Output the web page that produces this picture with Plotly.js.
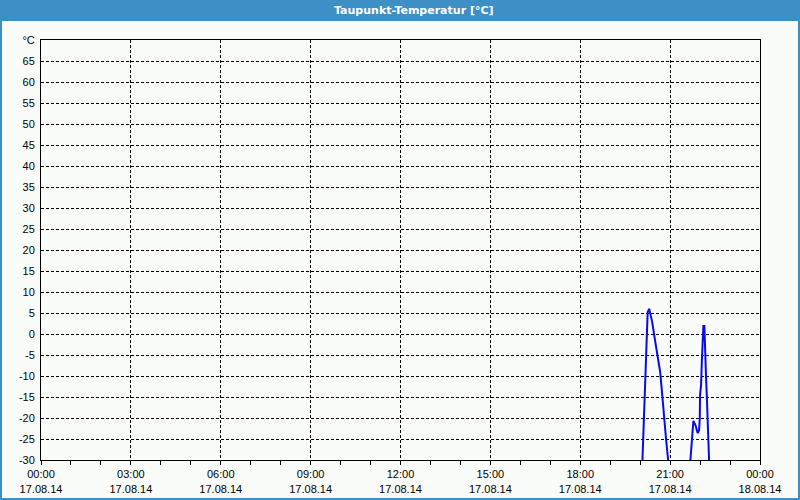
<!DOCTYPE html>
<html>
<head>
<meta charset="utf-8">
<script src="https://cdn.plot.ly/plotly-3.0.1.min.js"></script>
<style>html,body{margin:0;padding:0;background:#fafcfa;}#chart{width:800px;height:500px;}</style>
</head>
<body>
<div id="chart"></div>
<script>
var chartTitle = 'Taupunkt-Temperatur [°C]';
var times = [
  '2014-08-17 20:04:36','2014-08-17 20:06:00','2014-08-17 20:08:36','2014-08-17 20:12:00',
  '2014-08-17 20:15:00','2014-08-17 20:18:00','2014-08-17 20:20:00','2014-08-17 20:24:00',
  '2014-08-17 20:28:00','2014-08-17 20:32:00','2014-08-17 20:36:00','2014-08-17 20:40:00',
  '2014-08-17 20:43:00','2014-08-17 20:46:00','2014-08-17 20:49:00','2014-08-17 20:52:00',
  '2014-08-17 20:56:00',
  '2014-08-17 21:20:00',
  '2014-08-17 21:40:36','2014-08-17 21:42:36','2014-08-17 21:44:00','2014-08-17 21:46:36',
  '2014-08-17 21:48:36','2014-08-17 21:51:24','2014-08-17 21:53:24','2014-08-17 21:55:24',
  '2014-08-17 21:58:00','2014-08-17 21:59:24','2014-08-17 22:00:00','2014-08-17 22:02:00',
  '2014-08-17 22:03:24','2014-08-17 22:05:24','2014-08-17 22:06:36','2014-08-17 22:08:36',
  '2014-08-17 22:10:00','2014-08-17 22:11:24','2014-08-17 22:12:00','2014-08-17 22:13:24',
  '2014-08-17 22:15:24','2014-08-17 22:16:36','2014-08-17 22:18:00'
];
var dewPoint = [
  -30, -25.2, -15, -4.5, 5.2, 6.0, 5.0, 2.9, -0.2, -3.1, -5.2, -9, -12.9, -16.4, -20.5, -25.2, -30,
  null,
  -30, -27.1, -24, -20.7, -21.2, -21.9, -22.9, -23.6, -22.9, -20, -14.5, -12.1, -6.9, -2.5, 1.9, 1.9,
  -1.7, -5.7, -10.5, -14.5, -20, -23.1, -30
];
var xTickVals = ['2014-08-17 00:00','2014-08-17 03:00','2014-08-17 06:00','2014-08-17 09:00',
  '2014-08-17 12:00','2014-08-17 15:00','2014-08-17 18:00','2014-08-17 21:00','2014-08-18 00:00'];
var xTickText = ['00:00<br>17.08.14','03:00<br>17.08.14','06:00<br>17.08.14','09:00<br>17.08.14',
  '12:00<br>17.08.14','15:00<br>17.08.14','18:00<br>17.08.14','21:00<br>17.08.14','00:00<br>18.08.14'];
var yTickVals = [-30,-25,-20,-15,-10,-5,0,5,10,15,20,25,30,35,40,45,50,55,60,65,70];
var yTickText = ['-30','-25','-20','-15','-10','-5','0','5','10','15','20','25','30','35','40','45','50','55','60','65','°C'];

var L = 41, R = 40, T = 40, B = 40, W = 800, H = 500;
var pw = W - L - R, ph = H - T - B;
var bg = '#fafcfa', blue = '#3d8fc6';

var trace = {
  x: times, y: dewPoint, type: 'scatter', mode: 'lines',
  line: {color: '#0a0ae6', width: 2}, connectgaps: false, hoverinfo: 'skip'
};
var font = {family: 'Liberation Sans, Arial, sans-serif', size: 11, color: '#000'};
var layout = {
  width: W, height: H,
  margin: {l: L, r: R, t: T, b: B, pad: 0},
  paper_bgcolor: bg, plot_bgcolor: bg,
  showlegend: false,
  font: font,
  xaxis: {
    type: 'date', range: ['2014-08-17 00:00', '2014-08-18 00:00'],
    tickmode: 'array', tickvals: xTickVals, ticktext: xTickText,
    ticks: 'outside', ticklen: 4, tickcolor: '#000', tickwidth: 1,
    showgrid: true, gridcolor: '#000', griddash: '3px,2px', gridwidth: 1,
    showline: true, linecolor: '#000', linewidth: 1, mirror: true,
    zeroline: false, tickfont: font,
    minor: {dtick: 3600000, tick0: '2014-08-17 00:00', ticks: 'outside', ticklen: 4, tickcolor: '#000', showgrid: false}
  },
  yaxis: {
    range: [-30, 70], tickmode: 'array', tickvals: yTickVals, ticktext: yTickText,
    ticks: 'outside', ticklen: 3, tickcolor: bg,
    showgrid: true, gridcolor: '#000', griddash: '3px,2px', gridwidth: 1,
    showline: true, linecolor: '#000', linewidth: 1, mirror: true,
    zeroline: false, tickfont: font
  },
  shapes: [
    {type: 'rect', xref: 'paper', yref: 'paper', layer: 'below',
     x0: -L / pw, x1: (W - L) / pw, y0: (H - B - 21) / ph, y1: (H - B) / ph,
     fillcolor: blue, line: {width: 0}},
    {type: 'rect', xref: 'paper', yref: 'paper', layer: 'above',
     x0: (-L + 1) / pw, x1: (W - L - 1) / pw, y0: (-B + 1) / ph, y1: (H - B - 1) / ph,
     fillcolor: 'rgba(0,0,0,0)', line: {color: blue, width: 2}}
  ],
  annotations: [
    {text: chartTitle, xref: 'paper', yref: 'paper', x: (414 - L) / pw, y: (H - B - 10) / ph,
     xanchor: 'center', yanchor: 'middle', showarrow: false,
     font: {family: 'DejaVu Sans, sans-serif', size: 11, color: '#fff', weight: 'bold'}}
  ]
};
Plotly.newPlot('chart', [trace], layout, {displayModeBar: false, staticPlot: true});
</script>
</body>
</html>
